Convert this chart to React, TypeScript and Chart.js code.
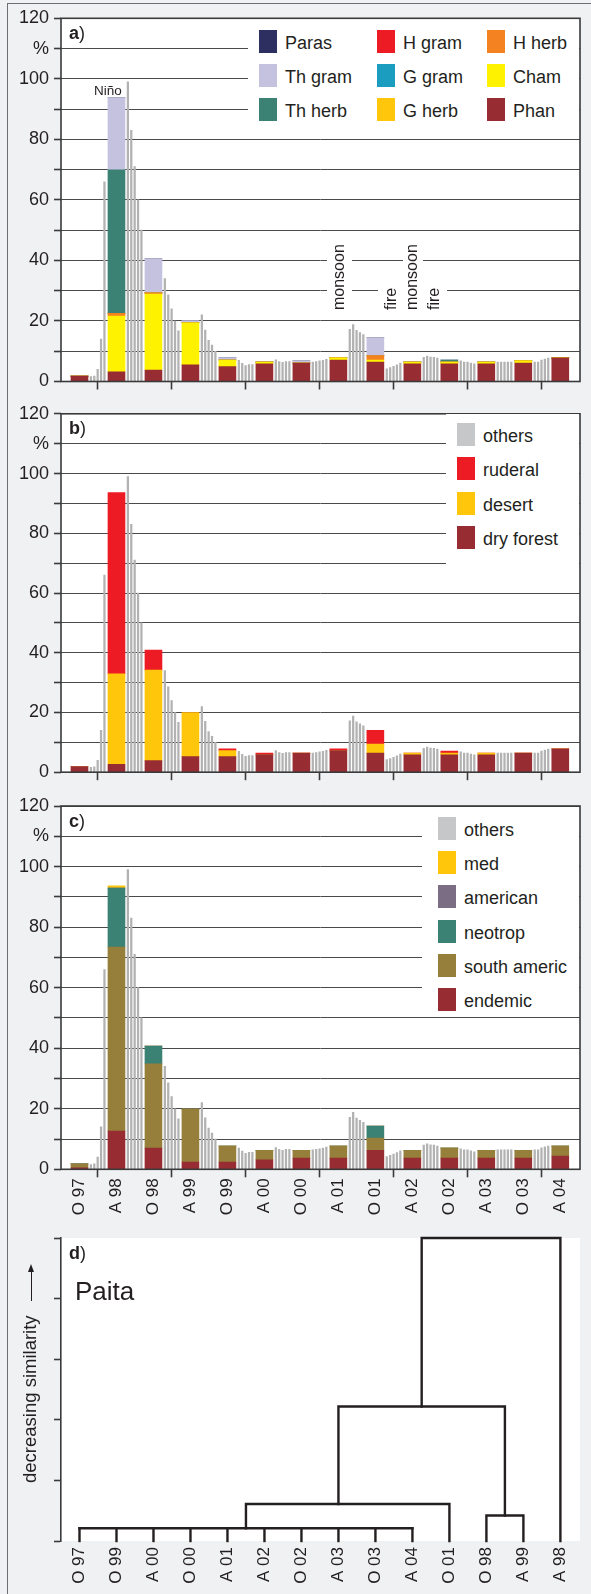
import React, { useEffect, useRef } from 'react';
import { Chart, registerables } from 'chart.js';

Chart.register(...registerables);

const FONT = "'Liberation Sans', Arial, Helvetica, sans-serif";
const INK = '#231f20';
const AXIS = '#3a3a3a';
const GRID = '#4a4a4a';
const LINE_GREY = '#b2b2b2';

// Sampling campaigns (October / April), months counted from October 1997
const samples = ['O 97', 'A 98', 'O 98', 'A 99', 'O 99', 'A 00', 'O 00', 'A 01', 'O 01', 'A 02', 'O 02', 'A 03', 'O 03', 'A 04'];
const sampleMonths = [0, 6, 12, 18, 24, 30, 36, 42, 48, 54, 60, 66, 72, 78];
// January 1998 ... January 2004
const januaryMonths = [3, 15, 27, 39, 51, 63, 75];

// Intermediate readings between two campaigns (thin grey bars), five per interval
const readingOffsets = [1.85, 2.4, 2.95, 3.5, 4.05];
const readings = [
  [1.6, 1.8, 4.0, 14, 66],
  [99, 83, 71, 60, 50],
  [34, 28.6, 24, 20, 16.7],
  [22, 17, 13.6, 12, 10],
  [7.0, 6.0, 5.3, 5.6, 5.6],
  [7.2, 6.6, 6.3, 6.6, 6.6],
  [6.4, 6.6, 6.8, 7.0, 7.3],
  [17.2, 18.8, 16.9, 16.2, 15.5],
  [4.2, 4.6, 5.0, 5.5, 6.1],
  [8.0, 8.4, 8.1, 8.0, 7.7],
  [6.8, 6.4, 6.4, 6.1, 5.8],
  [6.4, 6.4, 6.4, 6.4, 6.4],
  [6.4, 6.4, 7.1, 7.4, 7.7],
];

// a) life forms (%)
const phan = [1.8, 3.2, 3.8, 5.5, 4.9, 5.8, 6.1, 7.1, 6.4, 5.8, 5.8, 5.8, 6.1, 7.8];
const cham = [0, 18.4, 25.1, 13.9, 2.2, 0.6, 0, 0.7, 0.7, 0.6, 0.6, 0.6, 0.7, 0];
const hHerb = [0, 0.9, 0.4, 0, 0, 0, 0, 0, 1.5, 0, 0, 0, 0, 0];
const gHerb = [0, 0, 0, 0, 0, 0, 0, 0, 0, 0, 0, 0, 0, 0];
const gGram = [0, 0, 0, 0, 0, 0, 0, 0, 0, 0, 0, 0, 0, 0];
const hGram = [0, 0, 0, 0, 0, 0, 0, 0, 0, 0, 0, 0, 0, 0];
const thHerb = [0, 47.4, 0, 0, 0, 0, 0, 0, 0, 0, 0.7, 0, 0, 0];
const thGram = [0, 23.8, 11.2, 0.7, 0.8, 0, 0.7, 0, 5.8, 0, 0, 0, 0, 0];
const paras = [0, 0, 0, 0, 0, 0, 0, 0, 0, 0, 0, 0, 0, 0];

// b) ecological groups (%)
const dryForest = [1.9, 2.6, 3.9, 5.2, 5.2, 5.9, 6.4, 7.2, 6.4, 5.8, 5.8, 5.8, 6.4, 7.8];
const desert = [0, 30.3, 30.3, 14.8, 2.0, 0, 0, 0, 3.0, 0.6, 0.6, 0.6, 0, 0];
const ruderal = [0, 60.7, 6.7, 0, 0.6, 0.5, 0, 0.6, 4.6, 0, 0.7, 0, 0, 0];

// c) chorological groups (%)
const endemic = [0.5, 12.6, 7.0, 2.4, 2.4, 3.1, 3.7, 3.7, 6.3, 3.7, 3.7, 3.7, 3.7, 4.4];
const southAmeric = [1.3, 60.8, 27.8, 17.5, 5.3, 3.2, 2.6, 4.0, 4.0, 2.6, 3.3, 2.6, 2.6, 3.3];
const neotrop = [0, 19.5, 5.9, 0, 0, 0, 0, 0, 4.0, 0, 0, 0, 0, 0];
const american = [0, 0, 0, 0, 0, 0, 0, 0, 0, 0, 0, 0, 0, 0];
const med = [0, 0.7, 0, 0, 0, 0, 0, 0, 0, 0, 0, 0, 0, 0];

// d) dendrogram, leaves in plotting order
const leafNames = ['O 97', 'O 99', 'A 00', 'O 00', 'A 01', 'A 02', 'O 02', 'A 03', 'O 03', 'A 04', 'O 01', 'O 98', 'A 99', 'A 98'];
const leafIndex = [0, 1, 2, 3, 4, 5, 6, 7, 8, 9, 10, 11, 12, 13];
const tiedLeaves = [0, 1, 2, 3, 4, 5, 6, 7, 8, 9];
const tiedHeight = 0.21;
const merges = [
  { left: 11, leftH: 0, right: 12, rightH: 0, h: 0.42 },
  { left: 4.5, leftH: 0.21, right: 10, rightH: 0, h: 0.61 },
  { left: 7, leftH: 0.61, right: 11.5, rightH: 0.42, h: 2.22 },
  { left: 9.25, leftH: 2.22, right: 13, rightH: 0, h: 5.0 },
];

const C = {
  paras: '#2c2f5f',
  hGram: '#ed1c24',
  hHerb: '#f58220',
  thGram: '#c5c2e0',
  gGram: '#1a9dbf',
  cham: '#fff200',
  thHerb: '#3b8174',
  gHerb: '#ffc60b',
  phan: '#972d33',
  others: '#c6c7c9',
  american: '#7b6e84',
  southAmeric: '#957f3a',
};

type Series = { label: string; color: string; values: number[] };

const seriesA: Series[] = [
  { label: 'Phan', color: C.phan, values: phan },
  { label: 'Cham', color: C.cham, values: cham },
  { label: 'H herb', color: C.hHerb, values: hHerb },
  { label: 'G herb', color: C.gHerb, values: gHerb },
  { label: 'G gram', color: C.gGram, values: gGram },
  { label: 'H gram', color: C.hGram, values: hGram },
  { label: 'Th herb', color: C.thHerb, values: thHerb },
  { label: 'Th gram', color: C.thGram, values: thGram },
  { label: 'Paras', color: C.paras, values: paras },
];
const seriesB: Series[] = [
  { label: 'dry forest', color: C.phan, values: dryForest },
  { label: 'desert', color: C.gHerb, values: desert },
  { label: 'ruderal', color: C.hGram, values: ruderal },
];
const seriesC: Series[] = [
  { label: 'endemic', color: C.phan, values: endemic },
  { label: 'south americ', color: C.southAmeric, values: southAmeric },
  { label: 'neotrop', color: C.thHerb, values: neotrop },
  { label: 'american', color: C.american, values: american },
  { label: 'med', color: C.gHerb, values: med },
];

const legendA = [
  { label: 'Paras', color: C.paras },
  { label: 'H gram', color: C.hGram },
  { label: 'H herb', color: C.hHerb },
  { label: 'Th gram', color: C.thGram },
  { label: 'G gram', color: C.gGram },
  { label: 'Cham', color: C.cham },
  { label: 'Th herb', color: C.thHerb },
  { label: 'G herb', color: C.gHerb },
  { label: 'Phan', color: C.phan },
];
const legendB = [
  { label: 'others', color: C.others },
  { label: 'ruderal', color: C.hGram },
  { label: 'desert', color: C.gHerb },
  { label: 'dry forest', color: C.phan },
];
const legendC = [
  { label: 'others', color: C.others },
  { label: 'med', color: C.gHerb },
  { label: 'american', color: C.american },
  { label: 'neotrop', color: C.thHerb },
  { label: 'south americ', color: C.southAmeric },
  { label: 'endemic', color: C.phan },
];

const plotBackground = {
  id: 'plotBackground',
  beforeDraw(chart: any) {
    const { ctx, chartArea: a } = chart;
    ctx.save();
    ctx.fillStyle = '#ffffff';
    ctx.fillRect(a.left, a.top, a.right - a.left, a.bottom - a.top);
    ctx.restore();
  },
};

const plotFrame = {
  id: 'plotFrame',
  afterDraw(chart: any) {
    const { ctx, chartArea: a } = chart;
    ctx.save();
    ctx.strokeStyle = AXIS;
    ctx.lineWidth = 1.6;
    ctx.strokeRect(a.left, a.top, a.right - a.left, a.bottom - a.top);
    ctx.restore();
  },
};

const X_MIN = -3;
const X_MAX = 81.2;
const axisTickValues = [...sampleMonths, ...januaryMonths].sort((p, q) => p - q);

function stackConfig(series: Series[], showLabels: boolean, padTop: number, xAxisHeight: number): any {
  const bars = series.map((s) => ({
    type: 'bar',
    label: s.label,
    data: sampleMonths.map((m, i) => ({ x: m, y: s.values[i] })),
    backgroundColor: s.color,
    borderWidth: 0,
    barThickness: 17,
  }));
  const lines = {
    type: 'bar',
    label: 'readings',
    data: readings.flatMap((gap, g) => gap.map((v, k) => ({ x: sampleMonths[g] + readingOffsets[k], y: v }))),
    backgroundColor: LINE_GREY,
    borderWidth: 0,
    barThickness: 1.6,
  };
  return {
    type: 'bar',
    data: { datasets: [...bars, lines] },
    plugins: [plotBackground, plotFrame],
    options: {
      animation: false,
      responsive: false,
      events: [],
      layout: { padding: { top: padTop, right: 11, left: 0, bottom: 0 } },
      plugins: { legend: { display: false }, tooltip: { enabled: false } },
      scales: {
        x: {
          type: 'linear',
          min: X_MIN,
          max: X_MAX,
          offset: false,
          stacked: true,
          afterBuildTicks: (s: any) => {
            s.ticks = axisTickValues.map((v) => ({ value: v }));
          },
          afterFit: (s: any) => {
            s.height = xAxisHeight;
          },
          grid: {
            offset: false,
            drawOnChartArea: false,
            drawTicks: true,
            tickLength: 8,
            tickWidth: 1.6,
            tickColor: (c: any) => (c.tick && januaryMonths.includes(c.tick.value) ? AXIS : 'rgba(0,0,0,0)'),
          },
          border: { display: false },
          ticks: {
            autoSkip: false,
            minRotation: 90,
            maxRotation: 90,
            padding: 1,
            color: INK,
            font: { family: FONT, size: 17 },
            callback: (v: number) => {
              if (!showLabels) return '';
              const i = sampleMonths.indexOf(v);
              return i >= 0 ? samples[i] : '';
            },
          },
        },
        y: {
          min: 0,
          max: 120,
          stacked: true,
          afterFit: (s: any) => {
            s.width = 61;
          },
          grid: { color: GRID, lineWidth: 1, tickLength: 7, tickWidth: 1.6, tickColor: AXIS },
          border: { display: false },
          ticks: {
            stepSize: 10,
            autoSkip: false,
            padding: 5,
            color: INK,
            font: { family: FONT, size: 18 },
            callback: (v: number) => (v === 110 ? '%' : v % 20 === 0 ? String(v) : ''),
          },
        },
      },
    },
  };
}

function dendrogramConfig(): any {
  const segments: { x: number; y: number }[][] = [];
  segments.push([
    { x: tiedLeaves[0], y: tiedHeight },
    { x: tiedLeaves[tiedLeaves.length - 1], y: tiedHeight },
  ]);
  tiedLeaves.forEach((l) => segments.push([{ x: l, y: 0 }, { x: l, y: tiedHeight }]));
  merges.forEach((m) =>
    segments.push([
      { x: m.left, y: m.leftH },
      { x: m.left, y: m.h },
      { x: m.right, y: m.h },
      { x: m.right, y: m.rightH },
    ])
  );
  return {
    type: 'scatter',
    data: {
      datasets: segments.map((pts) => ({
        data: pts,
        showLine: true,
        borderColor: INK,
        borderWidth: 2.4,
        pointRadius: 0,
        fill: false,
        clip: false,
        borderJoinStyle: 'miter',
        borderCapStyle: 'square',
      })),
    },
    plugins: [plotBackground],
    options: {
      animation: false,
      responsive: false,
      events: [],
      layout: { padding: { top: 13, right: 11, left: 0, bottom: 0 } },
      plugins: { legend: { display: false }, tooltip: { enabled: false } },
      scales: {
        x: {
          type: 'linear',
          min: -0.5,
          max: 13.53,
          afterBuildTicks: (s: any) => {
            s.ticks = leafIndex.map((v) => ({ value: v }));
          },
          afterFit: (s: any) => {
            s.height = 53;
          },
          grid: { display: false, drawTicks: false },
          border: { display: false },
          ticks: {
            autoSkip: false,
            minRotation: 90,
            maxRotation: 90,
            padding: 6,
            color: INK,
            font: { family: FONT, size: 17 },
            callback: (v: number) => leafNames[v] ?? '',
          },
        },
        y: {
          min: 0,
          max: 5,
          afterFit: (s: any) => {
            s.width = 61;
          },
          grid: { drawOnChartArea: false, tickLength: 7, tickWidth: 1.6, tickColor: AXIS },
          border: { display: true, color: AXIS, width: 1.6 },
          ticks: { stepSize: 1, autoSkip: false, padding: 0, font: { family: FONT, size: 12 }, callback: () => '' },
        },
      },
    },
  };
}

const Txt = ({ x, baseline, size, bold, children }: any) => (
  <div
    style={{
      position: 'absolute',
      left: x,
      top: baseline - 0.8465 * size,
      fontSize: size,
      lineHeight: `${size}px`,
      fontFamily: FONT,
      fontWeight: bold ? 700 : 400,
      color: INK,
      whiteSpace: 'nowrap',
    }}
  >
    {children}
  </div>
);

const VTxt = ({ x, y, size, children }: any) => (
  <div
    style={{
      position: 'absolute',
      left: x,
      top: y,
      transform: 'rotate(-90deg)',
      transformOrigin: '0 0',
      fontSize: size,
      lineHeight: `${size}px`,
      fontFamily: FONT,
      color: INK,
      whiteSpace: 'nowrap',
    }}
  >
    {children}
  </div>
);

const Mask = ({ x, y, w, h }: any) => (
  <div style={{ position: 'absolute', left: x, top: y, width: w, height: h, background: '#ffffff' }} />
);

const PanelTag = ({ letter, baseline }: any) => (
  <Txt x={69} baseline={baseline} size={18}>
    <b>{letter}</b>)
  </Txt>
);

const LegendItems = ({ items, cols, colX, top, pitch }: any) => (
  <>
    {items.map((it: any, i: number) => {
      const col = i % cols;
      const row = Math.floor(i / cols);
      const x = colX[col];
      const y = top + row * pitch;
      return (
        <React.Fragment key={it.label}>
          <div style={{ position: 'absolute', left: x, top: y, width: 18, height: 23, background: it.color }} />
          <div
            style={{
              position: 'absolute',
              left: x + 26,
              top: y + 4,
              fontSize: 18,
              lineHeight: '18px',
              fontFamily: FONT,
              color: INK,
              whiteSpace: 'nowrap',
            }}
          >
            {it.label}
          </div>
        </React.Fragment>
      );
    })}
  </>
);

export default function App() {
  const aRef = useRef<HTMLCanvasElement>(null);
  const bRef = useRef<HTMLCanvasElement>(null);
  const cRef = useRef<HTMLCanvasElement>(null);
  const dRef = useRef<HTMLCanvasElement>(null);

  useEffect(() => {
    const charts = [
      new Chart(aRef.current!, stackConfig(seriesA, false, 18.3, 18.5)),
      new Chart(bRef.current!, stackConfig(seriesB, false, 14.3, 12.3)),
      new Chart(cRef.current!, stackConfig(seriesC, true, 16, 60.7)),
      new Chart(dRef.current!, dendrogramConfig()),
    ];
    return () => charts.forEach((c) => c.destroy());
  }, []);

  const canvasStyle = (top: number, h: number): React.CSSProperties => ({
    position: 'absolute',
    left: 0,
    top,
    width: 591,
    height: h,
  });

  return (
    <div
      style={{
        position: 'absolute',
        left: 0,
        top: 0,
        width: 591,
        height: 1594,
        overflow: 'hidden',
        background: '#f0f1f3',
        fontFamily: FONT,
      }}
    >
      <div
        style={{
          position: 'absolute',
          left: 7,
          top: 3,
          width: 600,
          height: 1600,
          borderLeft: '1.6px solid #6e6f72',
          borderTop: '1.6px solid #6e6f72',
        }}
      />
      <canvas ref={aRef} width={591} height={400} style={canvasStyle(0, 400)} />
      <canvas ref={bRef} width={591} height={390} style={canvasStyle(398, 390)} />
      <canvas ref={cRef} width={591} height={440} style={canvasStyle(790, 440)} />
      <canvas ref={dRef} width={591} height={369} style={canvasStyle(1225, 369)} />

      {/* a) life forms */}
      <Mask x={248} y={19.5} w={331} h={107} />
      <LegendItems items={legendA} cols={3} colX={[259, 377, 487]} top={30} pitch={34} />
      <PanelTag letter="a" baseline={39.5} />
      <Txt x={94} baseline={95} size={13.5}>Niño</Txt>
      <Mask x={327} y={258} w={25} h={5} />
      <Mask x={403} y={258} w={20} h={5} />
      <Mask x={327} y={288.5} w={25} h={5} />
      <Mask x={378} y={288.5} w={69} h={5} />
      <VTxt x={330.6} y={310} size={16}>monsoon</VTxt>
      <VTxt x={383.1} y={310} size={16}>fire</VTxt>
      <VTxt x={403.9} y={310} size={16}>monsoon</VTxt>
      <VTxt x={426.3} y={310} size={16}>fire</VTxt>

      {/* b) ecological groups */}
      <Mask x={446} y={413.5} w={133} h={170} />
      <LegendItems items={legendB} cols={1} colX={[457]} top={423} pitch={34.3} />
      <PanelTag letter="b" baseline={434} />

      {/* c) chorology */}
      <Mask x={422} y={807} w={157} h={205} />
      <LegendItems items={legendC} cols={1} colX={[438]} top={817} pitch={34.2} />
      <PanelTag letter="c" baseline={827.5} />

      {/* d) cluster analysis */}
      <PanelTag letter="d" baseline={1259.5} />
      <Txt x={75} baseline={1300} size={26}>Paita</Txt>
      <div
        style={{
          position: 'absolute',
          left: 21,
          top: 1483,
          width: 230,
          height: 19,
          transform: 'rotate(-90deg)',
          transformOrigin: '0 0',
        }}
      >
        <div
          style={{
            position: 'absolute',
            left: 0,
            top: 0,
            fontSize: 18.5,
            lineHeight: '18.5px',
            fontFamily: FONT,
            color: INK,
            whiteSpace: 'nowrap',
          }}
        >
          decreasing similarity
        </div>
        <div style={{ position: 'absolute', left: 182, top: 10, width: 31, height: 1.3, background: INK }} />
        <div
          style={{
            position: 'absolute',
            left: 211,
            top: 7.15,
            width: 0,
            height: 0,
            borderTop: '3.5px solid transparent',
            borderBottom: '3.5px solid transparent',
            borderLeft: '8px solid ' + INK,
          }}
        />
      </div>
    </div>
  );
}
